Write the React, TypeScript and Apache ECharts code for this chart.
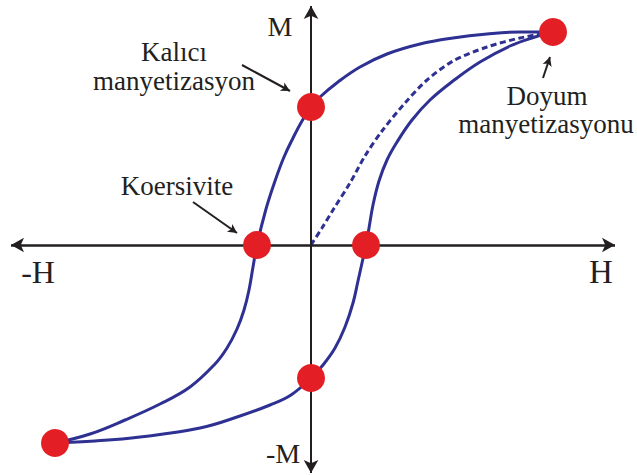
import React, { useEffect, useRef } from "react";
import * as echarts from "echarts";

// Hysteresis loop, units: arbitrary H (x) and M (y), origin at the axes crossing
const upperBranchH = [242, 209, 176, 142, 109, 76, 49, 27, 9, 0, -9, -18, -27, -36, -45, -54, -58, -62, -67, -74, -84, -96, -121, -151, -186, -221, -256];
const upperBranchM = [213, 213, 211, 207, 201, 191, 178, 163, 148, 138, 124, 107, 88, 64, 36, 0, -22, -45, -65, -84, -103, -119, -142, -159, -175, -189, -198];

const lowerBranchH = [-256, -216, -171, -111, -71, -41, -20, 0, 12, 24, 34, 42, 47, 51, 55, 58, 62, 68, 76, 86, 101, 119, 142, 169, 199, 224, 242];
const lowerBranchM = [-198, -196, -192, -183, -171, -160, -150, -133, -120, -103, -82, -58, -36, -18, 0, 17, 40, 64, 85, 103, 125, 145, 164, 183, 199, 208, 213];

const initialH = [0, 11, 22, 39, 54, 71, 94, 116, 142, 176, 209, 242];
const initialM = [0, 17, 35, 62, 89, 114, 142, 165, 184, 198, 207, 213];

const keyPointsH = [242, 0, -54, 55, 0, -256];
const keyPointsM = [213, 138, 0, 0, -133, -198];

const axisExtentH = [-300, 304];
const axisExtentM = [-228, 239];

// annotation arrows: [fromH, fromM, toH, toM]
const remanenceArrow = [-69, 180, -21, 154];
const coercivityArrow = [-118, 43, -74, 12];
const saturationArrow = [232, 167, 239, 188];

const zip = (a: number[], b: number[]) => a.map((v, i) => [v, b[i]]);

const NAVY = "#2e3192";
const RED = "#e31e24";
const INK = "#231f20";
const FONT = "Liberation Serif";

export default function App() {
  const ref = useRef<HTMLDivElement>(null);
  useEffect(() => {
    document.body.style.margin = "0";
    const chart = echarts.init(ref.current!, null, { renderer: "svg" });
    const arrowLine = (a: number[]) => [
      { coord: [a[0], a[1]], symbol: "none" },
      { coord: [a[2], a[3]], symbol: "arrow" },
    ];
    const txt = (text: string, x: number, y: number, size: number) => ({
      type: "text",
      x,
      y,
      style: {
        text,
        fill: INK,
        fontFamily: FONT,
        fontSize: size,
        textAlign: "center",
        textVerticalAlign: "middle",
      },
      silent: true,
    });
    chart.setOption({
      animation: false,
      grid: { left: 0, right: 0, top: 0, bottom: 0 },
      xAxis: { type: "value", min: -311, max: 326, show: false },
      yAxis: { type: "value", min: -230, max: 245, show: false },
      series: [
        {
          type: "line",
          data: [],
          silent: true,
          markLine: {
            silent: true,
            animation: false,
            label: { show: false },
            symbolSize: [11, 13],
            lineStyle: { color: INK, width: 2.5, type: "solid" },
            data: [
              [
                { coord: [axisExtentH[0], 0], symbol: "arrow" },
                { coord: [axisExtentH[1], 0], symbol: "arrow" },
              ],
              [
                { coord: [0, axisExtentM[0]], symbol: "arrow", lineStyle: { width: 2 } },
                { coord: [0, axisExtentM[1]], symbol: "arrow" },
              ],
            ],
          },
        },
        {
          type: "line",
          data: [],
          silent: true,
          markLine: {
            silent: true,
            animation: false,
            label: { show: false },
            symbolSize: [7, 9],
            lineStyle: { color: INK, width: 2, type: "solid" },
            data: [arrowLine(remanenceArrow), arrowLine(coercivityArrow), arrowLine(saturationArrow)],
          },
        },
        {
          name: "initial",
          type: "line",
          data: zip(initialH, initialM),
          smooth: 0.3,
          showSymbol: false,
          lineStyle: { color: NAVY, width: 3, type: [6, 3.5] },
          silent: true,
        },
        {
          name: "upper",
          type: "line",
          data: zip(upperBranchH, upperBranchM),
          smooth: 0.4,
          showSymbol: false,
          lineStyle: { color: NAVY, width: 3 },
          silent: true,
        },
        {
          name: "lower",
          type: "line",
          data: zip(lowerBranchH, lowerBranchM),
          smooth: 0.4,
          showSymbol: false,
          lineStyle: { color: NAVY, width: 3 },
          silent: true,
        },
        {
          name: "points",
          type: "scatter",
          data: zip(keyPointsH, keyPointsM),
          symbolSize: 28,
          itemStyle: { color: RED, opacity: 1 },
          z: 10,
          silent: true,
        },
      ],
      graphic: [
        txt("M", 280, 26, 28),
        txt("-M", 283, 453, 28),
        txt("-H", 38, 272, 32),
        txt("H", 601, 272, 33),
        txt("Kalıcı", 174, 52, 27),
        txt("manyetizasyon", 174, 81, 27),
        txt("Koersivite", 177, 186, 27),
        txt("Doyum", 547, 96, 27),
        txt("manyetizasyonu", 546, 124, 27),
      ],
    });
    return () => chart.dispose();
  }, []);
  return (
    <div
      ref={ref}
      style={{ position: "absolute", left: 0, top: 0, width: 637, height: 475, background: "#fff" }}
    />
  );
}
